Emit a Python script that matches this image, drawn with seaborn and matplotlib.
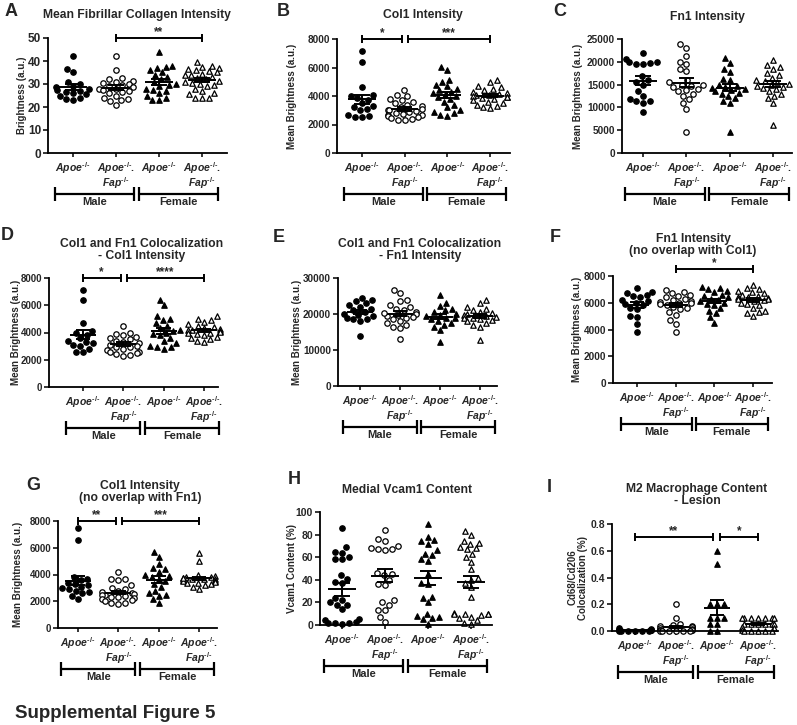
import numpy as np
import pandas as pd
import matplotlib.pyplot as plt
import seaborn as sns
from matplotlib.ticker import MultipleLocator, FormatStrFormatter

sns.set_theme(style="ticks")
plt.rcParams["font.family"] = ["Liberation Sans", "DejaVu Sans"]
plt.rcParams["font.weight"] = "bold"
plt.rcParams["mathtext.fontset"] = "custom"
plt.rcParams["mathtext.it"] = "Liberation Sans:italic:bold"
plt.rcParams["mathtext.rm"] = "Liberation Sans:bold"
plt.rcParams["mathtext.bf"] = "Liberation Sans:bold"

W, H = 797, 725

# ---- data: male Apoe, male Apoe/Fap, female Apoe, female Apoe/Fap ----
a_m_apoe = [42, 36.5, 35, 31, 30, 29, 28.5, 28, 27.5, 27, 26.5, 26, 25.5, 25, 24, 23.5, 23]
a_m_fap = [42, 36, 32.5, 32, 31.5, 31, 30.5, 30, 29, 28.5, 28, 28, 27.5, 27, 26, 25, 24, 23.5,
           23, 22.5, 21, 26.5, 29.5]
a_f_apoe = [44, 38, 37.5, 37, 36, 35, 34, 33, 32, 31, 30, 29.5, 29, 28, 27.5, 27, 26, 25, 24, 23, 23]
a_f_fap = [39.5, 38, 37.5, 37, 36.5, 36, 35, 34.5, 34, 33, 32.5, 32, 31.5, 31, 30.5, 30, 29.5, 29,
           28, 27, 26, 25.5, 24, 24, 24, 34, 35.5]

b_m_apoe = [7150, 6400, 4650, 4050, 4000, 3850, 3750, 3500, 3300, 3200, 3100, 3000, 2700, 2600, 2550, 2550]
b_m_fap = [4400, 4050, 4000, 3800, 3700, 3600, 3500, 3400, 3300, 3200, 3100, 3050, 3000, 2950, 2900,
           2800, 2750, 2700, 2650, 2600, 2500, 2450, 2400, 2350, 2300]
b_f_apoe = [6050, 5800, 5150, 5000, 4800, 4700, 4500, 4400, 4300, 4200, 4100, 4000, 3900, 3800, 3600,
            3400, 3200, 3000, 2900, 2800, 2700, 2600]
b_f_fap = [5100, 5000, 4700, 4600, 4500, 4400, 4300, 4200, 4150, 4100, 4050, 4000, 3950, 3900, 3850,
           3800, 3700, 3600, 3500, 3400, 3300, 3200, 3150]

c_m_apoe = [22000, 20600, 20000, 20000, 19800, 19500, 19500, 16800, 16000, 15500, 15000, 13500, 12500,
            11800, 11500, 11000, 11500, 9000]
c_m_fap = [23800, 23000, 21200, 20000, 19500, 18500, 18000, 15000, 16000, 15500, 15000, 14800, 14500,
           14000, 13800, 13500, 13000, 12500, 11800, 11000, 9700, 4700]
c_f_apoe = [20800, 19800, 18500, 17800, 16200, 16000, 15000, 14800, 14500, 14200, 14000, 13800, 13500,
            13200, 13000, 12500, 12000, 11500, 11000, 4500]
c_f_fap = [20500, 19300, 18800, 18400, 17500, 17000, 16500, 16000, 15800, 15500, 15200, 15000, 14800,
           14500, 14200, 14000, 13500, 13000, 12500, 12000, 11000, 6200]

d_m_apoe = [7150, 6400, 4700, 4100, 4000, 3800, 3600, 3400, 3300, 3200, 3100, 3000, 2800, 2600, 2550]
d_m_fap = [4500, 4000, 3900, 3800, 3700, 3600, 3500, 3400, 3300, 3200, 3100, 3000, 2950, 2900, 2800,
           2700, 2600, 2550, 2500, 2400, 2350, 2300]
d_f_apoe = [6400, 6000, 5200, 5000, 4900, 4700, 4500, 4300, 4200, 4100, 4000, 3900, 3800, 3600, 3400,
            3200, 3000, 2900, 2900, 2800]
d_f_fap = [5200, 5000, 4950, 4800, 4600, 4500, 4400, 4300, 4250, 4200, 4150, 4100, 4050, 4000, 3950,
           3900, 3800, 3700, 3600, 3500, 3400, 3300]

e_m_apoe = [24500, 23800, 23500, 23000, 22500, 22000, 21500, 21000, 20500, 20000, 19800, 19500, 18500,
            18000, 19000, 18500, 13800]
e_m_fap = [26800, 25800, 24000, 23500, 22500, 22000, 21500, 21000, 20500, 20000, 19800, 19500, 19000,
           18500, 18000, 17500, 17000, 16500, 16000, 13000, 20200, 19200]
e_f_apoe = [25200, 23000, 22200, 21500, 21000, 20500, 20000, 19800, 19500, 19000, 18800, 18500, 18000,
            17500, 17000, 16500, 15500, 12200]
e_f_fap = [23800, 23000, 22000, 21500, 21000, 20500, 20200, 20000, 19800, 19500, 19200, 19000, 18800,
           18500, 18200, 18000, 17500, 17000, 16500, 12800]

f_m_apoe = [7100, 6800, 6700, 6600, 6500, 6400, 6200, 6100, 6000, 5900, 5800, 5600, 5500, 5000, 4900,
            4400, 3800]
f_m_fap = [6950, 6800, 6700, 6600, 6500, 6400, 6300, 6200, 6100, 6050, 6000, 5950, 5900, 5800, 5700,
           5600, 5500, 5300, 5100, 4700, 4400, 3800]
f_f_apoe = [7200, 7100, 7000, 6900, 6800, 6600, 6500, 6400, 6300, 6200, 6100, 6000, 5900, 5800, 5600,
            5400, 5200, 4900, 4500]
f_f_fap = [7300, 7100, 7000, 6900, 6800, 6700, 6600, 6500, 6450, 6400, 6350, 6300, 6250, 6200, 6100,
           6000, 5900, 5800, 5600, 5400, 5300, 5200, 5000]

g_m_apoe = [7450, 6550, 3800, 3700, 3600, 3400, 3300, 3200, 3100, 3000, 2900, 2800, 2700, 2600, 2400, 2200]
g_m_fap = [4200, 3700, 3650, 3600, 3200, 3000, 2900, 2800, 2700, 2600, 2550, 2500, 2450, 2400, 2350,
           2300, 2250, 2200, 2100, 2000, 1900, 1850, 1800]
g_f_apoe = [5700, 5300, 4800, 4500, 4400, 4200, 4000, 3900, 3800, 3700, 3500, 3300, 3100, 2800, 2600,
            2500, 2400, 2200, 1900]
g_f_fap = [5600, 5000, 4000, 3900, 3850, 3800, 3750, 3700, 3650, 3600, 3550, 3500, 3450, 3400, 3350,
           3300, 3200, 3100, 2900, 3650, 3750]

h_m_apoe = [86, 69, 65, 64, 60, 58, 58, 44, 41, 38, 37, 24, 22, 20, 18, 18, 14, 5, 4, 3, 2, 2, 2, 1]
h_m_fap = [84, 76, 74, 70, 68, 67, 67, 66, 46, 45, 44, 40, 36, 35, 22, 20, 18, 13, 13, 7, 3]
h_f_apoe = [89, 78, 75, 74, 72, 66, 63, 62, 58, 57, 45, 37, 36, 25, 24, 20, 10, 8, 7, 6, 5, 1]
h_f_fap = [83, 80, 74, 73, 72, 69, 68, 67, 63, 60, 56, 50, 42, 40, 37, 34, 25, 11, 10, 10, 10, 10, 9,
           7, 6, 4, 2, 1]

i_m_apoe = [0.02, 0.015, 0.01, 0.01, 0.005, 0.005, 0.005, 0.003, 0.002, 0.002, 0.001, 0.001, 0.0]
i_m_fap = [0.2, 0.1, 0.05, 0.045, 0.04, 0.035, 0.03, 0.03, 0.02, 0.015, 0.01, 0.01, 0.005, 0.005,
           0.003, 0.002, 0.001, 0.0, 0.0, 0.0]
i_f_apoe = [0.6, 0.5, 0.2, 0.2, 0.2, 0.1, 0.1, 0.1, 0.05, 0.05, 0.0, 0.0]
i_f_fap = [0.1, 0.1, 0.1, 0.1, 0.1, 0.1, 0.1, 0.05, 0.05, 0.05, 0.05, 0.05, 0.05, 0.03, 0.02, 0.01,
           0.0, 0.0, 0.0, 0.0, 0.0]

groups = ["Male Apoe", "Male Apoe Fap", "Female Apoe", "Female Apoe Fap"]
markers = ["o", "o", "^", "^"]
fills = ["black", "white", "black", "white"]
dko = "$Apoe^{\u2010/\u2010}.$" + "\n" + "$Fap^{\u2010/\u2010}$"
tick_labels = ["$Apoe^{\u2010/\u2010}$", dko, "$Apoe^{\u2010/\u2010}$", dko]

# layout in pixels: box = (left, right, y of ymax, y of 0), cats = x of first / last group
panels = [
    dict(letter="A", data=[a_m_apoe, a_m_fap, a_f_apoe, a_f_fap],
         title="Mean Fibrillar Collagen Intensity", ylabel="Brightness (a.u.)",
         ymax=50, step=10, fmt="%d", box=(48, 227, 38, 153), cats=(73, 202), ylab_x=22,
         title_xy=(137, 15), letter_xy=(11, 12), sig=[(1, 3, 50, "**")], ytfs=8.5),
    dict(letter="B", data=[b_m_apoe, b_m_fap, b_f_apoe, b_f_fap],
         title="Col1 Intensity", ylabel="Mean Brightness (a.u.)",
         ymax=8000, step=2000, fmt="%d", box=(337, 510, 39, 153), cats=(362, 490), ylab_x=292,
         title_xy=(423, 15), letter_xy=(283, 11),
         sig=[(0, 0.93, 8000, "*"), (1.08, 3, 8000, "***")], ytfs=7.2),
    dict(letter="C", data=[c_m_apoe, c_m_fap, c_f_apoe, c_f_fap],
         title="Fn1 Intensity", ylabel="Mean Brightness (a.u.)",
         ymax=25000, step=5000, fmt="%d", box=(622, 792, 39, 153), cats=(643, 773), ylab_x=578,
         title_xy=(707, 17), letter_xy=(560, 12), sig=[], ytfs=7.2),
    dict(letter="D", data=[d_m_apoe, d_m_fap, d_f_apoe, d_f_fap],
         title="Col1 and Fn1 Colocalization\n- Col1 Intensity", ylabel="Mean Brightness (a.u.)",
         ymax=8000, step=2000, fmt="%d", box=(49, 218, 278, 387), cats=(83, 204), ylab_x=16,
         title_xy=(142, 250), letter_xy=(7, 236),
         sig=[(0, 0.93, 8000, "*"), (1.1, 3, 8000, "****")], ytfs=7.0),
    dict(letter="E", data=[e_m_apoe, e_m_fap, e_f_apoe, e_f_fap],
         title="Col1 and Fn1 Colocalization\n- Fn1 Intensity", ylabel="Mean Brightness (a.u.)",
         ymax=30000, step=10000, fmt="%d", box=(338, 497, 278, 386), cats=(360, 480), ylab_x=297,
         title_xy=(420, 250), letter_xy=(279, 238), sig=[], ytfs=7.2),
    dict(letter="F", data=[f_m_apoe, f_m_fap, f_f_apoe, f_f_fap],
         title="Fn1 Intensity\n(no overlap with Col1)", ylabel="Mean Brightness (a.u.)",
         ymax=8000, step=2000, fmt="%d", box=(613, 772, 276, 383), cats=(637, 753), ylab_x=577,
         title_xy=(693, 245), letter_xy=(555, 237), sig=[(1, 3, 8500, "*")], ytfs=7.2),
    dict(letter="G", data=[g_m_apoe, g_m_fap, g_f_apoe, g_f_fap],
         title="Col1 Intensity\n(no overlap with Fn1)", ylabel="Mean Brightness (a.u.)",
         ymax=8000, step=2000, fmt="%d", box=(58, 217, 521, 628), cats=(78, 199), ylab_x=18,
         title_xy=(140, 492), letter_xy=(33, 485),
         sig=[(0, 0.93, 8000, "**"), (1.1, 3, 8000, "***")], ytfs=7.0),
    dict(letter="H", data=[h_m_apoe, h_m_fap, h_f_apoe, h_f_fap],
         title="Medial Vcam1 Content", ylabel="Vcam1 Content (%)",
         ymax=100, step=20, fmt="%d", box=(320, 492, 512, 625), cats=(342, 471), ylab_x=292,
         title_xy=(407, 490), letter_xy=(294, 480), sig=[], ytfs=7.5),
    dict(letter="I", data=[i_m_apoe, i_m_fap, i_f_apoe, i_f_fap],
         title="M2 Macrophage Content\n- Lesion", ylabel="Cd68/Cd206\nColocalization (%)",
         ymax=0.8, step=0.2, fmt="%.1f", box=(612, 778, 524, 631), cats=(635, 758), ylab_x=578,
         title_xy=(697, 495), letter_xy=(549, 487),
         sig=[(0, 1.9, 0.7, "**"), (2.07, 3, 0.7, "*")], ytfs=7.5),
]

fig = plt.figure(figsize=(W / 100, H / 100), dpi=100)

for p in panels:
    l, r, t, b = p["box"]
    hpx = b - t
    ax = fig.add_axes([l / W, 1 - b / H, (r - l) / W, hpx / H])

    df = pd.DataFrame({
        "group": np.repeat(groups, [len(v) for v in p["data"]]),
        "value": np.concatenate(p["data"]),
    })
    for g, m, fc in zip(groups, markers, fills):
        sns.swarmplot(data=df[df["group"] == g], x="group", y="value", order=groups,
                      marker=m, color=fc, edgecolor="black", linewidth=0.9, size=3.9,
                      ax=ax, zorder=2, clip_on=False)

    # mean +/- SEM
    stats = df.groupby("group")["value"].agg(["mean", "sem"]).reindex(groups)
    xs = np.arange(4)
    mu, se = stats["mean"].values, stats["sem"].values
    kw = dict(color="black", lw=1.4, zorder=4)
    ax.hlines(mu, xs - 0.32, xs + 0.32, **kw)
    ax.hlines(mu + se, xs - 0.18, xs + 0.18, **kw)
    ax.hlines(mu - se, xs - 0.18, xs + 0.18, **kw)
    ax.vlines(xs, mu - se, mu + se, **kw)

    sp = (p["cats"][1] - p["cats"][0]) / 3
    ax.set_xlim((l - p["cats"][0]) / sp, 3 + (r - p["cats"][1]) / sp)
    ax.set_ylim(0, p["ymax"])
    ax.yaxis.set_major_locator(MultipleLocator(p["step"]))
    ax.yaxis.set_major_formatter(FormatStrFormatter(p["fmt"]))
    ax.set_xticks(xs)
    ax.set_xticklabels(tick_labels, fontsize=7.5, linespacing=0.95)
    ax.tick_params(axis="y", labelsize=p["ytfs"], width=1.3, length=3.5, pad=1.5)
    ax.tick_params(axis="x", width=1.3, length=3, pad=2)
    ax.set_xlabel("")
    ax.set_ylabel(p["ylabel"], fontsize=7, fontweight="bold", linespacing=1.1)
    ax.yaxis.set_label_coords((p["ylab_x"] - l) / (r - l), 0.5)
    ax.yaxis.label.set_va("center")
    sns.despine(ax=ax)
    for s in ["left", "bottom"]:
        ax.spines[s].set_linewidth(1.3)
        ax.spines[s].set_color("black")

    # significance bars
    cap = 4 / hpx * p["ymax"]
    for x1, x2, y, stars in p["sig"]:
        ax.plot([x1, x2], [y, y], color="black", lw=1.4, clip_on=False)
        ax.vlines([x1, x2], y - cap, y + cap, color="black", lw=1.4, clip_on=False)
        ax.text((x1 + x2) / 2, y, stars, ha="center", va="bottom",
                fontsize=8.5, fontweight="bold")

    # Male / Female brackets
    trans = ax.get_xaxis_transform()
    yb, gcap = -41 / hpx, 7 / hpx
    for x1, x2, name in [(-0.42, 1.42, "Male"), (1.53, 3.38, "Female")]:
        ax.plot([x1, x2], [yb, yb], transform=trans, color="black", lw=1.6, clip_on=False)
        ax.vlines([x1, x2], yb - gcap, yb + gcap, transform=trans, color="black", lw=1.6,
                  clip_on=False)
        ax.text((x1 + x2) / 2, yb - 8 / hpx, name, transform=trans, ha="center", va="center",
                fontsize=8, fontweight="bold")

    tx, ty = p["title_xy"]
    fig.text(tx / W, 1 - ty / H, p["title"], ha="center", va="center", fontsize=8.7,
             fontweight="bold", linespacing=1.1)
    lx, ly = p["letter_xy"]
    fig.text(lx / W, 1 - ly / H, p["letter"], ha="center", va="center", fontsize=13,
             fontweight="bold")

fig.text(15 / W, 1 - 714 / H, "Supplemental Figure 5", ha="left", va="center",
         fontsize=13.5, fontweight="bold")

fig.savefig("out.png", dpi=100, facecolor="white")
